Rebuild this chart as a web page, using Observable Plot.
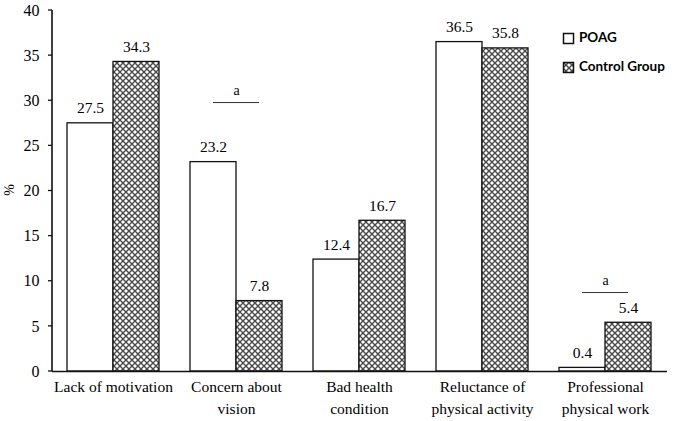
<!DOCTYPE html>
<html>
<head>
<meta charset="utf-8">
<script src="https://cdn.jsdelivr.net/npm/d3@7"></script>
<script src="https://cdn.jsdelivr.net/npm/@observablehq/plot@0.6"></script>
<style>
  html, body { margin: 0; padding: 0; background: #fff; }
  #chart { width: 674px; height: 421px; }
  #chart svg text { font-family: "Liberation Serif", "Times New Roman", serif; }
  #chart svg text.legend-label { font-family: Lato, "Open Sans", sans-serif; }
</style>
</head>
<body>
<div id="chart"></div>
<script>
const categories = ["Lack of motivation", "Concern about vision", "Bad health condition", "Reluctance of physical activity", "Professional physical work"];
const tickLabels = ["Lack of motivation", "Concern about\nvision", "Bad health\ncondition", "Reluctance of\nphysical activity", "Professional\nphysical work"];
const groups = ["POAG", "Control Group"];
const poagValues = [27.5, 23.2, 12.4, 36.5, 0.4];
const controlValues = [34.3, 7.8, 16.7, 35.8, 5.4];
const sigCategories = ["Concern about vision", "Professional physical work"];
const sigLevels = [29.8, 8.75];
const sigLabels = ["a", "a"];
const yTicks = [0, 5, 10, 15, 20, 25, 30, 35, 40];

const poag = categories.map((c, i) => ({category: c, group: groups[0], value: poagValues[i]}));
const control = categories.map((c, i) => ({category: c, group: groups[1], value: controlValues[i]}));
const sig = sigCategories.map((c, i) => ({category: c, y: sigLevels[i], label: sigLabels[i]}));
const labelOf = new Map(categories.map((c, i) => [c, tickLabels[i]]));

const layout = {
  width: 674,
  height: 421,
  marginLeft: 52,
  marginRight: 7,
  marginTop: 10,
  marginBottom: 50
};
const xScale = {domain: categories, paddingInner: 0.25, paddingOuter: 0.115, label: null};
const yScale = {domain: [0, 40], label: null};

// probe the band scale to get the bandwidth for the grouped bars
const probe = Plot.plot({...layout, x: xScale, y: yScale, marks: [Plot.barY(poag, {x: "category", y: "value"})]});
const bw = probe.scale("x").bandwidth;
const half = bw / 2;

const chart = Plot.plot({
  ...layout,
  style: {fontSize: "15px", color: "#000", background: "#fff", overflow: "visible"},
  x: xScale,
  y: yScale,
  marks: [
    Plot.axisY({ticks: yTicks, tickSize: 0, tickPadding: 13, fontSize: 16, label: null}),
    Plot.axisX({tickSize: 0, tickPadding: 5, fontSize: 15.5, label: null, tickFormat: d => labelOf.get(d), lineHeight: 1.4}),
    Plot.barY(poag, {x: "category", y: "value", insetRight: half, fill: "white", stroke: "#111", strokeWidth: 1.3}),
    Plot.barY(control, {x: "category", y: "value", insetLeft: half, fill: "url(#hatch)", stroke: "#111", strokeWidth: 1.3}),
    Plot.text(poag, {x: "category", y: "value", text: d => d.value.toFixed(1), dx: -half / 2, dy: -15, fontSize: 15.5, fill: "#000"}),
    Plot.text(control, {x: "category", y: "value", text: d => d.value.toFixed(1), dx: half / 2, dy: -15, fontSize: 15.5, fill: "#000"}),
    Plot.tickY(sig, {x: "category", y: "y", insetLeft: half / 2, insetRight: half / 2, stroke: "#333", strokeWidth: 1}),
    Plot.text(sig, {x: "category", y: "y", text: "label", dy: -12, fontSize: 14, fill: "#000"}),
    Plot.ruleY([0], {stroke: "#111", strokeWidth: 1.5})
  ]
});

const svg = d3.select(chart);
const defs = svg.insert("defs", ":first-child");
const pat = defs.append("pattern")
  .attr("id", "hatch")
  .attr("width", 6).attr("height", 6)
  .attr("patternUnits", "userSpaceOnUse");
pat.append("rect").attr("width", 6).attr("height", 6).attr("fill", "#fff");
pat.append("path")
  .attr("d", "M-1,-1L7,7M7,-1L-1,7")
  .attr("stroke", "#4a4a4a").attr("stroke-width", 1.4);

// y-axis line and ticks from the chart's y scale
const ys = chart.scale("y");
const x0 = layout.marginLeft;
const axisG = svg.append("g");
axisG.append("line")
  .attr("x1", x0).attr("x2", x0)
  .attr("y1", ys.apply(0)).attr("y2", ys.apply(40))
  .attr("stroke", "#111").attr("stroke-width", 1.6);
yTicks.forEach(t => {
  axisG.append("line")
    .attr("x1", x0 - 4).attr("x2", x0)
    .attr("y1", ys.apply(t)).attr("y2", ys.apply(t))
    .attr("stroke", "#111").attr("stroke-width", 1.3);
});

// y-axis title
svg.append("text")
  .attr("transform", "translate(11,190) rotate(-90)")
  .attr("text-anchor", "middle")
  .attr("dominant-baseline", "middle")
  .style("font-size", "14px")
  .text("%");

// legend
const legend = svg.append("g").attr("transform", "translate(563,33)");
groups.forEach((g, i) => {
  const row = legend.append("g").attr("transform", `translate(0,${i * 29})`);
  row.append("rect").attr("x", 0.5).attr("y", 0.5).attr("width", 10).attr("height", 10)
    .attr("fill", i === 0 ? "#fff" : "url(#hatch)").attr("stroke", "#111").attr("stroke-width", 1.5);
  row.append("text").attr("class", "legend-label")
    .attr("x", 16).attr("y", 6)
    .attr("text-anchor", "start")
    .attr("dominant-baseline", "middle")
    .style("font-weight", "700").style("font-size", "13.5px")
    .text(g);
});

document.getElementById("chart").appendChild(chart);
</script>
</body>
</html>
